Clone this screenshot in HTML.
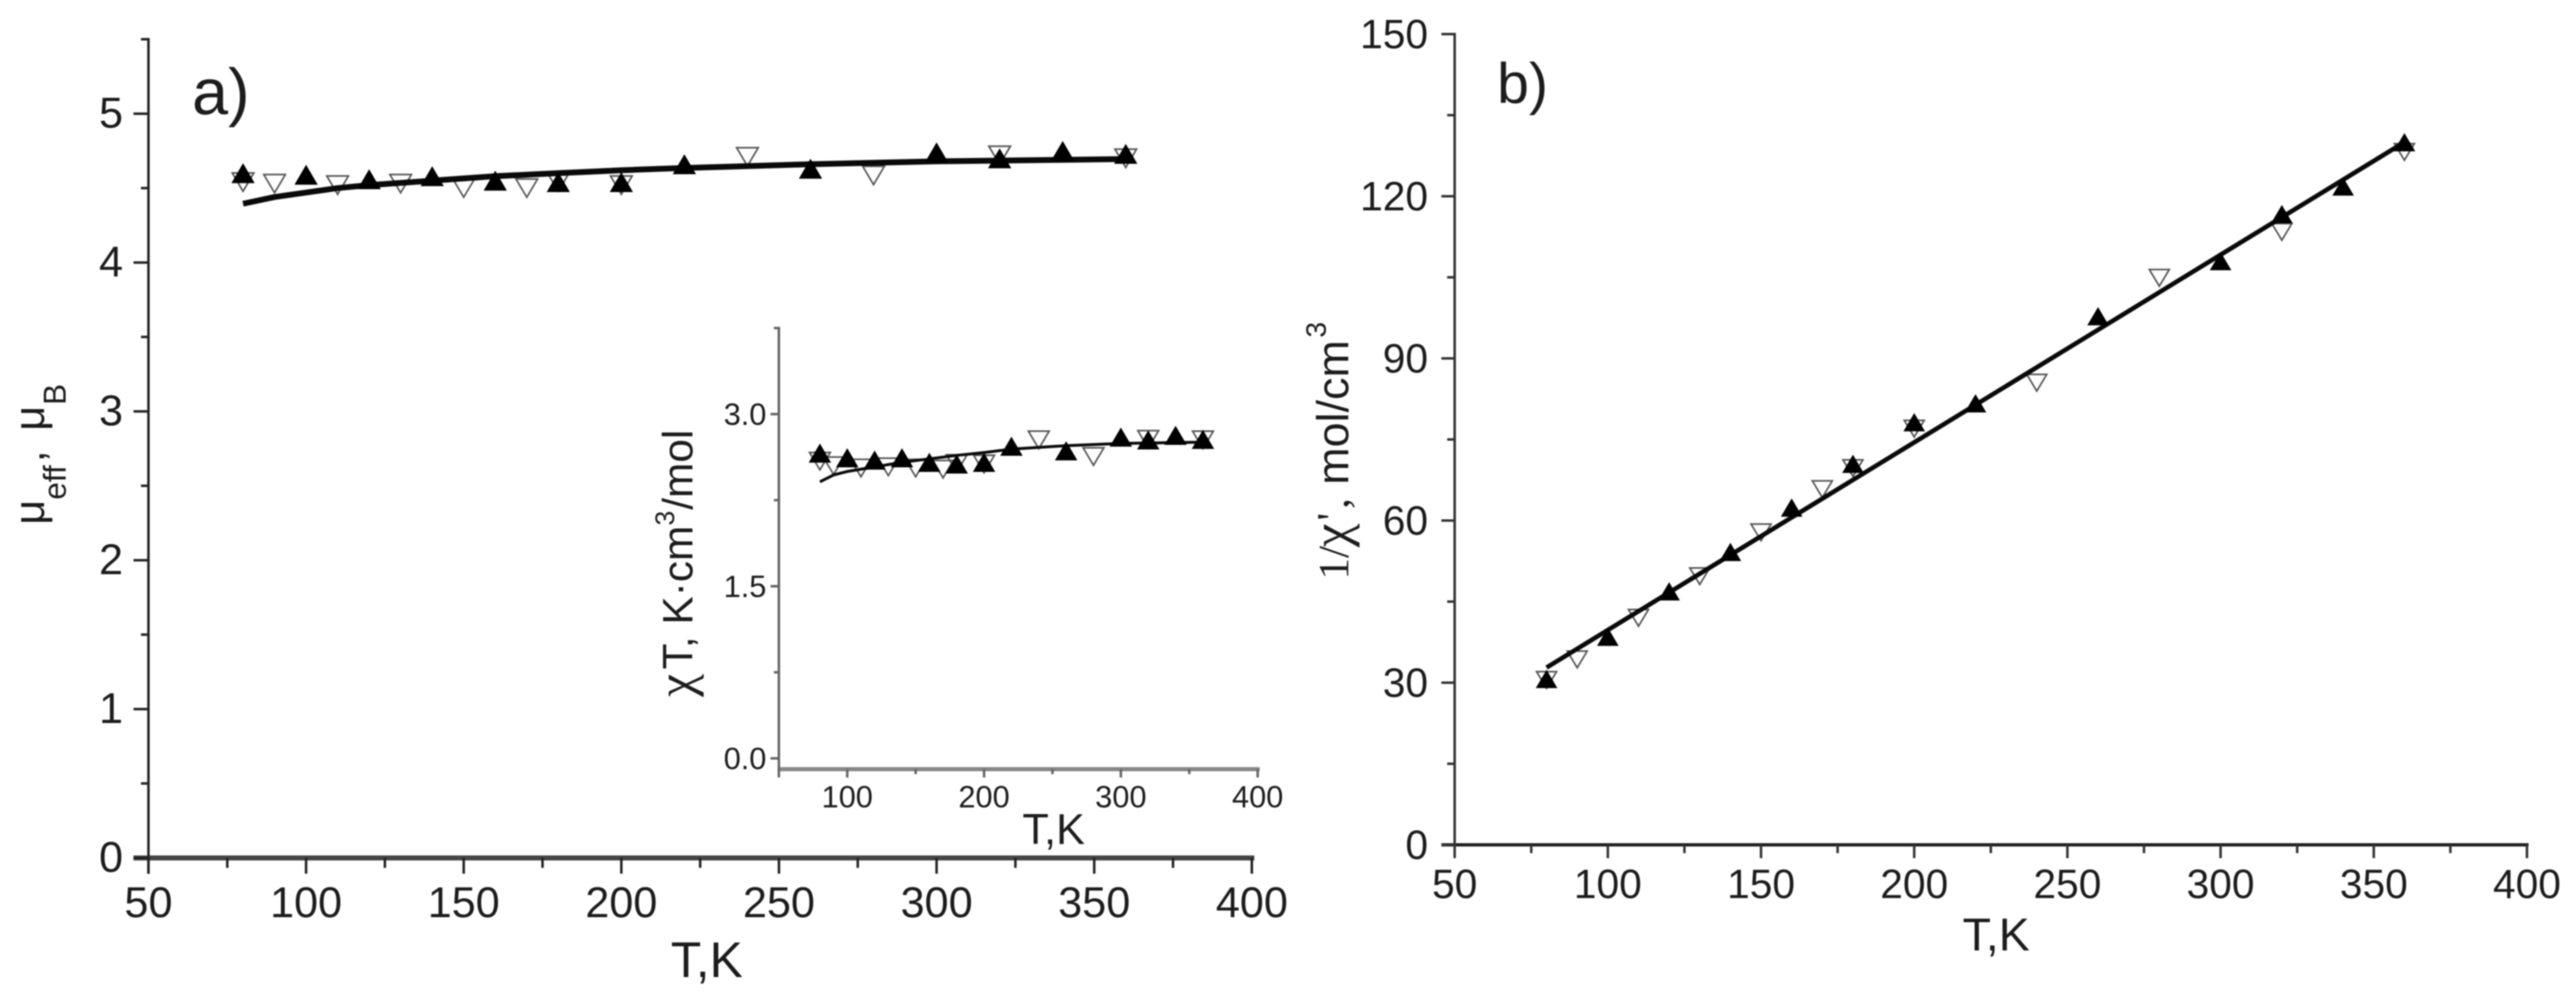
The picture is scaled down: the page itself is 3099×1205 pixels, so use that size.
<!DOCTYPE html>
<html lang="en">
<head>
<meta charset="utf-8">
<title>Magnetic moment and inverse susceptibility versus temperature</title>
<style>
html,body{margin:0;padding:0;background:#fff;width:3099px;height:1205px;overflow:hidden}
svg{display:block;filter:blur(0.7px)}
text{font-family:"Liberation Sans",sans-serif;fill:#1c1c1c}
.serif{font-family:"Liberation Serif",serif}
</style>
</head>
<body>
<svg id="chart" xmlns="http://www.w3.org/2000/svg" width="3099" height="1205" viewBox="0 0 3099 1205">
  <rect x="0" y="0" width="3099" height="1205" fill="#ffffff"/>
  <g id="panel-a"></g>
  <g id="panel-inset"></g>
  <g id="panel-b"></g>

  <text x="231" y="137" font-size="78">a)</text>
  <text x="1801" y="124" font-size="69">b)</text>

  <text x="807" y="1175" font-size="60">T,K</text>
  <text x="1230" y="1015" font-size="52">T,K</text>
  <text x="2361" y="1143" font-size="56">T,K</text>

  <text transform="translate(53,0) rotate(-90)" font-size="52"><tspan x="-631" y="0">μ</tspan><tspan x="-601" y="26" font-size="38">eff</tspan><tspan x="-556" y="0">,</tspan><tspan x="-518" y="0">μ</tspan><tspan x="-487" y="26" font-size="38">B</tspan></text>

  <text transform="translate(833,0) rotate(-90)" font-size="51"><tspan x="-838" y="0" class="serif" font-size="62">χ</tspan><tspan x="-805" y="0">T, K·cm</tspan><tspan x="-632" y="-22" font-size="32">3</tspan><tspan x="-613" y="0">/mol</tspan></text>

  <text transform="translate(1622,0) rotate(-90)" font-size="54"><tspan x="-697" y="0" class="serif" font-size="52">1/</tspan><tspan x="-658" y="0" class="serif" font-size="64">χ</tspan><tspan x="-626" y="-2" class="serif" font-size="52">'</tspan><tspan x="-612" y="0" class="serif" font-size="52">,</tspan><tspan x="-583" y="0">mol/cm</tspan><tspan x="-406" y="-27" font-size="34">3</tspan></text>
</svg>

<script>
// ---------- panel a: effective moment ----------
const aFilledT = [80,100,120,140,160,180,200,220,260,300,320,340,360];
const aFilledV = [4.60,4.59,4.56,4.58,4.55,4.54,4.54,4.66,4.63,4.74,4.70,4.75,4.73];
const aOpenT = [80,90,110,130,150,170,180,200,240,280,320,360];
const aOpenV = [4.54,4.53,4.52,4.53,4.50,4.50,4.54,4.52,4.71,4.585,4.72,4.70];
const aFitT = [80,90,100,110,120,140,160,180,200,220,260,300,360];
const aFitV = [4.395,4.44,4.47,4.50,4.52,4.55,4.58,4.60,4.62,4.635,4.66,4.68,4.695];
const aXMajor = [50,100,150,200,250,300,350,400];
const aXMinor = [75,125,175,225,275,325,375];
const aYMajor = [0,1,2,3,4,5];
const aYMinor = [0.5,1.5,2.5,3.5,4.5,5.5];

// ---------- inset: chi T ----------
const iFilledT = [80,100,120,140,160,180,200,220,260,300,320,340,360];
const iFilledV = [2.66,2.62,2.60,2.62,2.58,2.565,2.58,2.72,2.68,2.80,2.775,2.815,2.78];
const iOpenT = [80,90,110,130,150,170,180,200,240,280,320,360];
const iOpenV = [2.59,2.55,2.53,2.54,2.53,2.52,2.57,2.565,2.775,2.63,2.78,2.775];
const iFitT = [80,90,100,110,120,140,160,180,200,220,260,300,360];
const iFitV = [2.41,2.47,2.50,2.52,2.54,2.58,2.61,2.64,2.665,2.695,2.725,2.745,2.755];
const iXMajor = [100,200,300,400];
const iXMinor = [150,250,350];
const iYMajor = [0,1.5,3];
const iYMinor = [0.75,2.25,3.75];
const iYLabels = ['0.0','1.5','3.0'];

// ---------- panel b: inverse susceptibility ----------
const bFilledT = [80,100,120,140,160,180,200,220,260,300,320,340,360];
const bFilledV = [30.7,38.5,46.9,54.2,62.4,70.5,78.2,81.7,97.8,108,116.7,121.8,130];
const bOpenT = [80,90,110,130,150,170,180,200,240,280,320,360];
const bOpenV = [30.5,34.3,42,49.7,57.8,65.8,69.7,77,85.5,104.9,113.4,128.2];
const bFitT = [80,360];
const bFitV = [32.8,130];
const bXMajor = [50,100,150,200,250,300,350,400];
const bXMinor = [75,125,175,225,275,325,375];
const bYMajor = [0,30,60,90,120,150];
const bYMinor = [15,45,75,105,135];

const NS = 'http://www.w3.org/2000/svg';

function linear(d0, d1, r0, r1) {
  return function (v) { return r0 + (v - d0) * (r1 - r0) / (d1 - d0); };
}

function shape(parent, tag) {
  const el = document.createElementNS(NS, tag);
  parent.appendChild(el);
  return el;
}

function drawPanel(cfg) {
  const g = document.getElementById(cfg.id);
  const x = cfg.x, y = cfg.y;
  const prefix = cfg.prefix;

  // x axis
  const xAxis = shape(g, 'line');
  
  
  xAxis.setAttribute('x1', x(cfg.xDomain[0]) - cfg.yMajorLen);
  xAxis.setAttribute('x2', x(cfg.xDomain[1]) + cfg.xAxisW / 2);
  xAxis.setAttribute('y1', cfg.xAxisY);
  xAxis.setAttribute('y2', cfg.xAxisY);
  xAxis.setAttribute('stroke', cfg.xAxisColor);
  xAxis.setAttribute('stroke-width', cfg.xAxisW);
  if (cfg.noLeftExtend) xAxis.setAttribute('x1', x(cfg.xDomain[0]));

  // y axis
  const yAxis = shape(g, 'line');
  
  
  yAxis.setAttribute('x1', x(cfg.xDomain[0]));
  yAxis.setAttribute('x2', x(cfg.xDomain[0]));
  yAxis.setAttribute('y1', y(cfg.yTop) - 1.5);
  yAxis.setAttribute('y2', cfg.xAxisY + cfg.xMajorLen);
  yAxis.setAttribute('stroke', cfg.axisColor);
  yAxis.setAttribute('stroke-width', cfg.axisW);

  // x ticks + labels
  cfg.xMajor.forEach(function (t) {
    const tick = shape(g, 'line');
    
    
    tick.setAttribute('x1', x(t));
    tick.setAttribute('x2', x(t));
    tick.setAttribute('y1', cfg.xAxisY);
    tick.setAttribute('y2', cfg.xAxisY + cfg.xMajorLen);
    tick.setAttribute('stroke', cfg.axisColor);
    tick.setAttribute('stroke-width', cfg.axisW);
    if (cfg.xLabelSkip && cfg.xLabelSkip.indexOf(t) >= 0) return;
    const lab = shape(g, 'text');
    
    
    lab.setAttribute('x', x(t));
    lab.setAttribute('y', cfg.xLabelY);
    lab.setAttribute('text-anchor', 'middle');
    lab.setAttribute('font-size', cfg.labelSize);
    lab.textContent = String(t);
  });
  cfg.xMinor.forEach(function (t) {
    const tick = shape(g, 'line');
    
    
    tick.setAttribute('x1', x(t));
    tick.setAttribute('x2', x(t));
    tick.setAttribute('y1', cfg.xAxisY);
    tick.setAttribute('y2', cfg.xAxisY + cfg.xMinorLen);
    tick.setAttribute('stroke', cfg.axisColor);
    tick.setAttribute('stroke-width', cfg.axisW);
  });

  // y ticks + labels
  cfg.yMajor.forEach(function (v, i) {
    const tick = shape(g, 'line');
    
    
    tick.setAttribute('x1', x(cfg.xDomain[0]) - cfg.yMajorLen);
    tick.setAttribute('x2', x(cfg.xDomain[0]));
    tick.setAttribute('y1', y(v));
    tick.setAttribute('y2', y(v));
    tick.setAttribute('stroke', cfg.axisColor);
    tick.setAttribute('stroke-width', cfg.axisW);
    const lab = shape(g, 'text');
    
    
    lab.setAttribute('x', cfg.yLabelX);
    lab.setAttribute('y', y(v) + cfg.yLabelDy);
    lab.setAttribute('text-anchor', 'end');
    lab.setAttribute('font-size', cfg.labelSize);
    lab.textContent = cfg.yLabels ? cfg.yLabels[i] : String(v);
  });
  cfg.yMinor.forEach(function (v) {
    const tick = shape(g, 'line');
    
    
    tick.setAttribute('x1', x(cfg.xDomain[0]) - cfg.yMinorLen);
    tick.setAttribute('x2', x(cfg.xDomain[0]));
    tick.setAttribute('y1', y(v));
    tick.setAttribute('y2', y(v));
    tick.setAttribute('stroke', cfg.axisColor);
    tick.setAttribute('stroke-width', cfg.axisW);
  });

  // open (down-pointing) markers
  cfg.openT.forEach(function (t, i) {
    const cx = x(t), cy = y(cfg.openV[i]), w = cfg.openW, h = cfg.openH;
    const m = shape(g, 'polygon');
    
    
    m.setAttribute('points',
      (cx - w / 2) + ',' + (cy - h / 2) + ' ' + (cx + w / 2) + ',' + (cy - h / 2) + ' ' + cx + ',' + (cy + h / 2));
    m.setAttribute('fill', 'none');
    m.setAttribute('stroke', '#555555');
    m.setAttribute('stroke-width', 2);
  });

  // fit line
  const fit = shape(g, 'polyline');
  
  
  fit.setAttribute('points', cfg.fitT.map(function (t, i) {
    return x(t) + ',' + y(cfg.fitV[i]);
  }).join(' '));
  fit.setAttribute('fill', 'none');
  fit.setAttribute('stroke', '#0a0a0a');
  fit.setAttribute('stroke-width', cfg.fitW);
  fit.setAttribute('stroke-linejoin', 'round');

  // filled (up-pointing) markers
  cfg.filledT.forEach(function (t, i) {
    const cx = x(t), cy = y(cfg.filledV[i]), w = cfg.markW, h = cfg.markH;
    const m = shape(g, 'polygon');
    
    
    m.setAttribute('points',
      cx + ',' + (cy - h / 2) + ' ' + (cx + w / 2) + ',' + (cy + h / 2) + ' ' + (cx - w / 2) + ',' + (cy + h / 2));
    m.setAttribute('fill', '#000000');
  });
}

drawPanel({
  id: 'panel-a', prefix: 'panel-a',
  x: linear(50, 400, 178.6, 1506), y: linear(0, 5, 1031.7, 136.7),
  xDomain: [50, 400], yTop: 5.5, xAxisY: 1031.7,
  xMajor: aXMajor, xMinor: aXMinor, yMajor: aYMajor, yMinor: aYMinor,
  xMajorLen: 19, xMinorLen: 12, yMajorLen: 18, yMinorLen: 9,
  axisW: 3, axisColor: '#222222', xAxisW: 6, xAxisColor: '#444444',
  labelSize: 52, xLabelY: 1103, yLabelX: 148, yLabelDy: 17,
  markW: 28, markH: 24, openW: 26, openH: 22, fitW: 7,
  filledT: aFilledT, filledV: aFilledV, openT: aOpenT, openV: aOpenV,
  fitT: aFitT, fitV: aFitV
});

drawPanel({
  id: 'panel-inset', prefix: 'inset',
  x: linear(50, 400, 937, 1513), y: linear(0, 3, 912, 498),
  xDomain: [50, 400], yTop: 3.75, xAxisY: 925, noLeftExtend: true,
  xMajor: [50].concat(iXMajor), xLabelSkip: [50], xMinor: iXMinor, yMajor: iYMajor, yMinor: iYMinor,
  yLabels: iYLabels,
  xMajorLen: 10, xMinorLen: 6, yMajorLen: 10, yMinorLen: 6,
  axisW: 3, axisColor: '#666666', xAxisW: 5, xAxisColor: '#888888',
  labelSize: 37, xLabelY: 971, yLabelX: 922, yLabelDy: 13,
  markW: 27, markH: 23, openW: 25, openH: 21, fitW: 3.5,
  filledT: iFilledT, filledV: iFilledV, openT: iOpenT, openV: iOpenV,
  fitT: iFitT, fitV: iFitV
});

drawPanel({
  id: 'panel-b', prefix: 'panel-b',
  x: linear(50, 400, 1750, 3040), y: linear(0, 150, 1016, 41),
  xDomain: [50, 400], yTop: 150, xAxisY: 1016,
  xMajor: bXMajor, xMinor: bXMinor, yMajor: bYMajor, yMinor: bYMinor,
  xMajorLen: 16, xMinorLen: 10, yMajorLen: 16, yMinorLen: 9,
  axisW: 3, axisColor: '#333333', xAxisW: 4, xAxisColor: '#222222',
  labelSize: 49, xLabelY: 1080, yLabelX: 1718, yLabelDy: 17,
  markW: 26, markH: 22, openW: 24, openH: 20, fitW: 5.5,
  filledT: bFilledT, filledV: bFilledV, openT: bOpenT, openV: bOpenV,
  fitT: bFitT, fitV: bFitV
});
</script>
</body>
</html>
